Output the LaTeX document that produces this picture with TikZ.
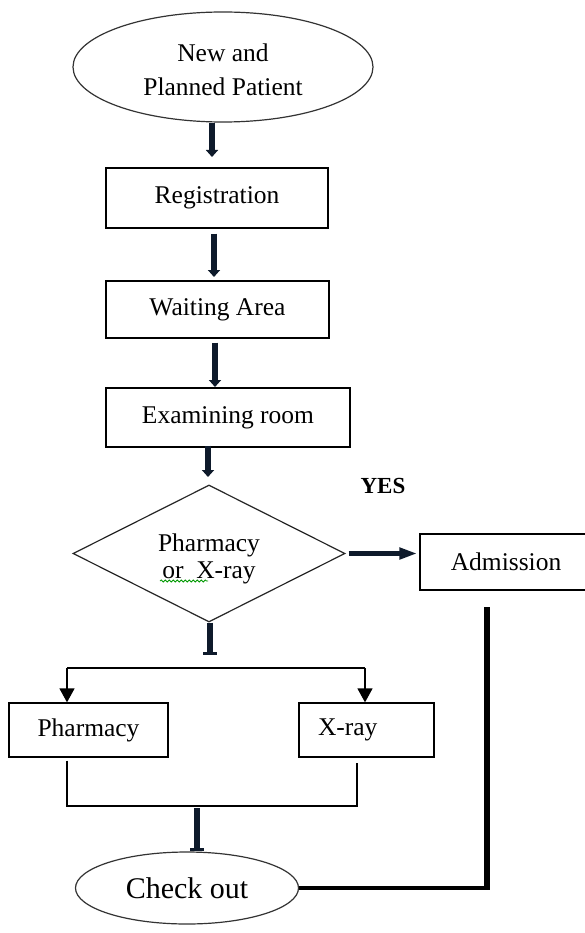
\documentclass[tikz,border=0pt]{standalone}
\usepackage{fontspec}
\setmainfont{Liberation Serif}
\usetikzlibrary{arrows.meta,shapes.geometric,decorations.pathmorphing}
\definecolor{dk}{HTML}{0E1A2B}
\begin{document}
\begin{tikzpicture}[x=1pt,y=-1pt,
 txt/.style={font=\fontsize{25.5}{30}\selectfont},
 box/.style={draw=black,line width=1.3pt,rectangle,inner sep=0pt,txt},
 oval/.style={draw=black!80,line width=1.2pt,ellipse,inner sep=0pt},
 bigarrow/.style={draw=dk,line width=6pt,-{Triangle[width=12pt,length=7pt]}},
 sidearrow/.style={draw=dk,line width=5pt,-{Triangle[width=11pt,length=18pt]}},
 stub/.style={draw=dk,line width=6pt,-{Rectangle[width=14pt,length=3.5pt]}},
 heavy/.style={draw=black,line width=6pt},
 medium/.style={draw=black,line width=4.5pt},
 thin/.style={draw=black,line width=1.5pt},
 thinarrow/.style={thin,-{Triangle[width=15pt,length=14pt]}},
]
\useasboundingbox (0,0) rectangle (585,933);
\clip (0,0) rectangle (585,933);
\fill[white] (0,0) rectangle (585,933);

% nodes
\node[oval,minimum width=300pt,minimum height=110pt,font=\fontsize{25.5}{34}\selectfont] (start) at (223,67)
  {\raisebox{-5pt}[\height][\depth]{\begin{tabular}{@{}c@{}}New and\\Planned Patient\end{tabular}}};
\node[box,minimum width=222pt,minimum height=60pt] (reg) at (217,198) {Registration};
\node[box,minimum width=223pt,minimum height=57pt] (wait) at (217.5,309.5) {Waiting Area};
\node[box,minimum width=244pt,minimum height=59pt] (exam) at (228,417.5) {Examining room};
\node[diamond,draw=black!85,line width=1.2pt,shape aspect=2,minimum width=272pt,minimum height=137pt,inner sep=0pt,font=\fontsize{25.5}{27}\selectfont] (dec) at (209,553.5)
  {\raisebox{-6pt}[\height][\depth]{\begin{tabular}{@{}c@{}}Pharmacy\\or~~X-ray\end{tabular}}};
\node[font=\bfseries\fontsize{23}{26}\selectfont] (yes) at (383,486) {YES};
\node[box,minimum width=172pt,minimum height=56pt] (adm) at (506,562) {Admission};
\node[box,minimum width=159pt,minimum height=54pt] (ph) at (88.5,730) {Pharmacy};
\node[box,text width=97pt,inner xsep=19pt,minimum height=54pt,align=left] (xr) at (366.5,730) {X-ray};
\node[oval,minimum width=223pt,minimum height=72pt,font=\fontsize{30}{34}\selectfont] (chk) at (187,888) {Check out};

% spell-check squiggle
\draw[green!60!black,line width=0.8pt,decorate,decoration={snake,amplitude=1pt,segment length=4pt}] (160,581) -- (208,581);

% coordinates
\coordinate (a1) at (212,157);
\coordinate (a2) at (214,277);
\coordinate (a3) at (215,387);
\coordinate (a4) at (208,477);
\coordinate (s1) at (210,655);
\coordinate (bl) at (67,668);
\coordinate (br) at (365,668);
\coordinate (ml) at (67,806);
\coordinate (mr) at (357,806);
\coordinate (s2) at (197,808);
\coordinate (rt) at (487,607);
\coordinate (rb) at (487,888);

% connectors
\draw[bigarrow] (start.south -| a1) -- (a1);
\draw[bigarrow] (reg.south -| a2) ++(0,5) -- (a2);
\draw[bigarrow] (wait.south -| a3) ++(0,4) -- (a3);
\draw[bigarrow] (exam.south -| a4) ++(0,-2) -- (a4);
\draw[sidearrow] (dec.east) ++(3,0) -- ([xshift=-2pt]adm.west |- dec.east);
\draw[stub] (dec.south -| s1) -- (s1);
\draw[thin] (bl) -- (br);
\draw[thinarrow] (bl) -- (ph.north -| bl);
\draw[thinarrow] (br) -- (xr.north -| br);
\draw[thin] (ph.south -| ml) ++(0,3) -- (ml) -- (mr) -- ++(0,-43);
\draw[stub] (s2) -- (chk.north -| s2);
\draw[heavy] (rt) -- ([yshift=-2pt]rb);
\draw[medium] (chk.east) -- (rb);
\end{tikzpicture}
\end{document}
